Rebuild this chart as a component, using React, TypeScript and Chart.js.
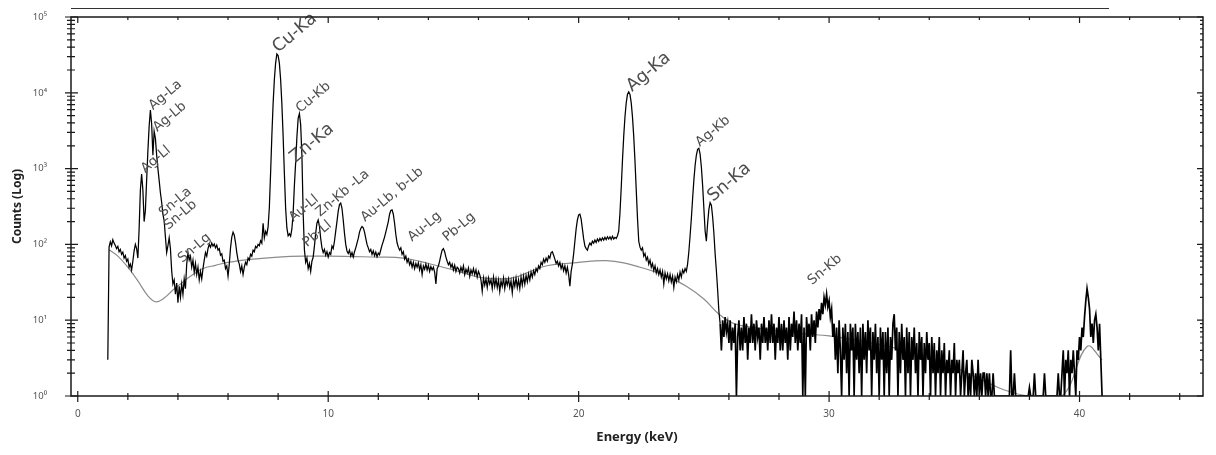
import { useEffect, useRef } from "react";
import { Chart, registerables } from "chart.js";

Chart.register(...registerables);

// spectrum channels are 0.05 keV wide, the first one sits at 1.20 keV
const startKeV = 1.2;
const keVPerChannel = 0.05;

// counts per channel, one row = 1 keV (row start energy in the comment)
const counts = [
  /* 1.2 */ 3, 92, 108, 96, 115, 104, 97, 88, 94, 80, 86, 74, 79, 66, 71, 60, 64, 50, 55, 46,
  /* 2.2 */ 60, 82, 100, 88, 66, 160, 520, 850, 520, 200, 280, 700, 1700, 3600, 5900, 3900, 1500, 3100, 2500, 1500,
  /* 3.2 */ 1000, 700, 480, 360, 250, 205, 125, 78, 96, 122, 88, 45, 30, 34, 22, 31, 17, 28, 20, 30,
  /* 4.2 */ 22, 35, 26, 55, 78, 62, 70, 50, 62, 43, 56, 40, 50, 34, 44, 35, 48, 62, 78, 70,
  /* 5.2 */ 88, 100, 92, 104, 95, 101, 90, 98, 84, 88, 72, 75, 60, 62, 48, 52, 38, 55, 90, 125,
  /* 6.2 */ 145, 132, 105, 78, 62, 55, 44, 52, 40, 50, 58, 54, 66, 62, 74, 70, 84, 80, 94, 90,
  /* 7.2 */ 100, 96, 112, 104, 190, 122, 148, 135, 170, 306, 880, 2720, 7170, 15000, 24600, 32500, 31000, 24600, 15000, 7150,
  /* 8.2 */ 2700, 860, 300, 165, 130, 138, 128, 160, 260, 600, 1200, 2600, 4600, 5300, 3800, 1500, 260, 85, 58, 66,
  /* 9.2 */ 48, 56, 44, 60, 68, 95, 140, 190, 210, 175, 120, 90, 78, 86, 72, 80, 68, 78, 74, 95,
  /* 10.2 */ 88, 110, 150, 200, 275, 335, 350, 300, 210, 140, 100, 82, 76, 84, 70, 78, 68, 80, 90, 104,
  /* 11.2 */ 120, 145, 162, 172, 165, 145, 120, 100, 90, 80, 86, 74, 82, 71, 79, 69, 77, 73, 85, 98,
  /* 12.2 */ 110, 125, 145, 170, 200, 250, 280, 285, 250, 190, 135, 105, 92, 84, 90, 74, 80, 64, 70, 58,
  /* 13.2 */ 64, 54, 60, 50, 58, 48, 56, 50, 57, 46, 54, 40, 52, 47, 55, 46, 53, 44, 51, 46,
  /* 14.2 */ 50, 43, 30, 48, 52, 60, 72, 84, 88, 80, 68, 60, 54, 58, 50, 55, 46, 53, 44, 50,
  /* 15.2 */ 48, 42, 50, 44, 52, 40, 47, 42, 49, 38, 46, 41, 48, 40, 46, 37, 44, 40, 34, 24,
  /* 16.2 */ 36, 29, 35, 27, 36, 30, 34, 26, 37, 28, 35, 27, 34, 24, 33, 28, 36, 26, 34, 29,
  /* 17.2 */ 35, 27, 33, 23, 34, 28, 36, 27, 34, 26, 37, 29, 38, 30, 39, 32, 41, 34, 43, 37,
  /* 18.2 */ 45, 40, 48, 44, 52, 48, 58, 54, 64, 58, 66, 60, 70, 66, 78, 80, 72, 64, 56, 60,
  /* 19.2 */ 52, 58, 48, 54, 45, 52, 42, 50, 40, 28, 44, 55, 75, 110, 160, 210, 245, 250, 215, 160,
  /* 20.2 */ 118, 95, 88, 84, 96, 104, 98, 110, 104, 114, 106, 118, 110, 120, 112, 122, 114, 124, 116, 126,
  /* 21.2 */ 118, 126, 116, 128, 118, 124, 120, 130, 150, 260, 560, 1290, 2680, 4830, 7390, 9550, 10300, 9500, 7350, 4780,
  /* 22.2 */ 2640, 1250, 520, 220, 110, 92, 84, 90, 70, 76, 62, 68, 55, 62, 50, 56, 45, 52, 42, 48,
  /* 23.2 */ 40, 46, 37, 44, 30, 42, 35, 41, 33, 40, 32, 38, 27, 37, 32, 40, 34, 43, 37, 46,
  /* 24.2 */ 42, 48, 44, 55, 80, 130, 220, 400, 700, 1100, 1500, 1800, 1850, 1550, 1050, 600, 300, 150, 110, 190,
  /* 25.2 */ 290, 355, 330, 230, 140, 75, 45, 25, 13, 9, 4, 10, 6, 11, 7, 9, 5, 10, 4, 8,
  /* 26.2 */ 5, 9, 1, 6, 10, 4, 8, 4, 11, 5, 9, 3, 8, 5, 12, 5, 9, 4, 10, 6,
  /* 27.2 */ 8, 3, 9, 5, 11, 5, 8, 4, 10, 5, 12, 5, 9, 3, 8, 5, 11, 4, 9, 4,
  /* 28.2 */ 10, 5, 8, 3, 11, 4, 9, 6, 13, 5, 10, 4, 9, 5, 12, 1, 8, 1, 11, 6,
  /* 29.2 */ 9, 4, 12, 6, 10, 5, 13, 8, 14, 10, 17, 12, 20, 16, 22, 15, 18, 11, 14, 6,
  /* 30.2 */ 9, 3, 8, 2, 10, 4, 1, 8, 3, 9, 2, 7, 1, 9, 4, 8, 1, 9, 3, 7,
  /* 31.2 */ 2, 8, 1, 9, 3, 7, 2, 10, 4, 8, 1, 7, 3, 9, 2, 6, 1, 8, 3, 7,
  /* 32.2 */ 1, 7, 2, 8, 1, 6, 3, 9, 12, 4, 8, 1, 7, 2, 9, 3, 6, 1, 8, 2,
  /* 33.2 */ 7, 1, 6, 3, 8, 2, 5, 1, 7, 3, 6, 1, 5, 2, 7, 3, 5, 1, 6, 2,
  /* 34.2 */ 5, 1, 4, 2, 6, 1, 4, 2, 5, 1, 3, 2, 4, 1, 3, 2, 5, 1, 3, 2,
  /* 35.2 */ 3, 1, 2, 4, 1, 2, 3, 1, 2, 1, 3, 2, 1, 2, 1, 3, 1, 2, 1, 2,
  /* 36.2 */ 2, 1, 2, 1, 2, 1, 1, 2, 1, 1, 1, 1, 1, 1, 1, 1, 1, 1, 1, 1,
  /* 37.2 */ 1, 4, 1, 1, 2, 1, 1, 1, 1, 1, 1, 1, 1, 1, 1, 1, 1.3, 1, 1, 1,
  /* 38.2 */ 2, 1, 1, 1, 1, 1, 1, 1, 2, 1, 1, 1, 1, 1, 1, 1, 1, 1, 1, 2,
  /* 39.2 */ 1, 1, 2, 4, 1, 3, 2, 4, 1, 3, 2, 4, 2, 1, 4, 3, 6, 4, 8, 6,
  /* 40.2 */ 11, 18, 26, 20, 14, 6, 9, 5, 10, 12, 8, 4, 9, 3, 1,
];

// fitted background (grey curve)
const bgEnergy = [1.25, 1.6, 2.0, 2.4, 2.8, 3.1, 3.4, 3.8, 4.2, 4.6, 5.0, 5.5, 6.0, 7.0, 8.0, 9.0, 10, 11, 12, 13, 14, 15, 16, 17, 17.5, 18, 18.5, 19, 19.8, 20.5, 21.1, 21.8, 22.45, 23, 23.5, 24.3, 25, 25.6, 26.2, 27, 28, 29, 30, 31, 32, 33, 34, 35, 36, 37, 38, 39.3, 40.3, 40.9];
const bgCounts = [85, 70, 50, 33, 21, 17.5, 19, 25, 32, 40, 48, 53, 58, 64, 68, 70, 70, 69, 68, 66, 56, 46, 37, 35, 37, 43, 50, 54, 57, 60, 61, 57, 50, 44, 38, 28, 19, 12, 9, 8, 7.2, 6.6, 6.2, 5.5, 4.8, 4, 3.2, 2.4, 1.7, 1.2, 1, 1, 4.5, 3];

// peak identification labels, anchored at (energy, counts)
const peakNames = ["Ag-Ll", "Ag-La", "Ag-Lb", "Sn-La", "Sn-Lb", "Sn-Lg", "Cu-Ka", "Cu-Kb", "Zn-Ka", "Au-Ll", "Pb-Ll", "Zn-Kb -La", "Au-Lb, b-Lb", "Au-Lg", "Pb-Lg", "Ag-Ka", "Ag-Kb", "Sn-Ka", "Sn-Kb"];
const peakEnergy = [2.69, 3.0, 3.17, 3.41, 3.61, 4.17, 8.0, 8.88, 8.68, 8.6, 9.15, 9.67, 11.47, 13.35, 14.74, 22.13, 24.84, 25.36, 29.32];
const peakCounts = [870, 5900, 3030, 230, 155, 57, 33500, 5400, 1180, 197, 92, 230, 197, 108, 108, 10250, 1930, 362, 29];
const bigPeaks = ["Cu-Ka", "Zn-Ka", "Ag-Ka", "Sn-Ka"];

const decades = [1, 10, 100, 1000, 10000, 100000];
const yTickLabels = ["10⁰", "10¹", "10²", "10³", "10⁴", "10⁵"];
const xTickValues = [0, 10, 20, 30, 40];
const xTickLabels = ["0", "10", "20", "30", "40"];

const FONT = "'Noto Sans', 'DejaVu Sans', sans-serif";
const LABEL_FONT = "'DejaVu Sans', sans-serif";

const framePlugin = {
  id: "frame",
  afterDraw(chart: any) {
    const { ctx, chartArea: a } = chart;
    const xs = chart.scales.x;
    const ys = chart.scales.y;
    ctx.save();
    ctx.strokeStyle = "#1a1a1a";
    ctx.lineWidth = 1.5;
    ctx.strokeRect(a.left, a.top, a.right - a.left, a.bottom - a.top);
    ctx.lineWidth = 1.2;
    ctx.beginPath();
    xs.ticks.forEach((t: any) => {
      const px = xs.getPixelForValue(t.value);
      const major = t.value % 10 === 0;
      ctx.moveTo(px, a.bottom - (major ? 5 : 3));
      ctx.lineTo(px, a.bottom + (major ? 6 : 4));
      ctx.moveTo(px, a.top);
      ctx.lineTo(px, a.top + (major ? 6 : 3));
    });
    ys.ticks.forEach((t: any) => {
      const py = ys.getPixelForValue(t.value);
      const major = decades.includes(t.value);
      ctx.moveTo(a.left - (major ? 6 : 4), py);
      ctx.lineTo(a.left + (major ? 7 : 4), py);
      ctx.moveTo(a.right - (major ? 6 : 3), py);
      ctx.lineTo(a.right, py);
    });
    ctx.stroke();
    ctx.restore();
  },
};

const peakLabelPlugin = {
  id: "peakLabels",
  afterDatasetsDraw(chart: any) {
    const { ctx } = chart;
    const xs = chart.scales.x;
    const ys = chart.scales.y;
    ctx.save();
    ctx.fillStyle = "#4d4d4d";
    ctx.textAlign = "left";
    ctx.textBaseline = "alphabetic";
    peakNames.forEach((name, i) => {
      const px = xs.getPixelForValue(peakEnergy[i]);
      const py = ys.getPixelForValue(peakCounts[i]);
      ctx.save();
      ctx.translate(px, py);
      ctx.rotate((-40 * Math.PI) / 180);
      ctx.font = `${bigPeaks.includes(name) ? 17.5 : 13.5}px ${LABEL_FONT}`;
      ctx.fillText(name, 0, 0);
      ctx.restore();
    });
    ctx.restore();
  },
};

function SpectrumChart() {
  const canvasRef = useRef<HTMLCanvasElement | null>(null);

  useEffect(() => {
    if (!canvasRef.current) return;

    const spectrum = counts.map((c, i) => ({ x: startKeV + i * keVPerChannel, y: c }));
    const background = bgEnergy.map((e, i) => ({ x: e, y: bgCounts[i] }));

    const chart = new Chart(canvasRef.current, {
      type: "line",
      data: {
        datasets: [
          {
            data: spectrum,
            borderColor: "#000",
            borderWidth: 1.25,
            pointRadius: 0,
            tension: 0,
            // the sparse high-energy tail is drawn a bit heavier so the noise reads as a band
            segment: {
              borderWidth: (ctx: any) => (ctx.p0.parsed.x > 25.6 ? 1.7 : 1.25),
            },
          },
          {
            data: background,
            borderColor: "#8c8c8c",
            borderWidth: 1.2,
            pointRadius: 0,
            tension: 0.4,
          },
        ],
      },
      options: {
        animation: false,
        responsive: true,
        maintainAspectRatio: false,
        layout: { padding: { top: 9, right: 5, left: 0, bottom: 0 } },
        plugins: {
          legend: { display: false },
          tooltip: { enabled: false },
        },
        scales: {
          x: {
            type: "linear",
            min: -0.27,
            max: 44.93,
            grid: { display: false, drawTicks: false },
            border: { display: false },
            afterBuildTicks: (scale: any) => {
              const t = [];
              for (let v = 0; v <= 44; v += 2) t.push({ value: v });
              scale.ticks = t;
            },
            afterFit: (scale: any) => {
              scale.height = 51;
              scale.paddingLeft = 0;
              scale.paddingRight = 0;
            },
            ticks: {
              autoSkip: false,
              maxRotation: 0,
              padding: 12,
              color: "#555",
              font: { family: FONT, size: 10 },
              callback: (value: any) => {
                const i = xTickValues.indexOf(Number(value));
                return i >= 0 ? xTickLabels[i] : "";
              },
            },
            title: {
              display: true,
              text: "Energy (keV)",
              color: "#222",
              font: { family: FONT, size: 13, weight: "bold" },
              padding: { top: 0, bottom: 2 },
            },
          },
          y: {
            type: "logarithmic",
            min: 1,
            max: 100000,
            grid: { display: false, drawTicks: false },
            border: { display: false },
            afterBuildTicks: (scale: any) => {
              const t = [];
              for (let d = 0; d < 5; d++) {
                for (let m = 1; m < 10; m++) t.push({ value: m * 10 ** d });
              }
              t.push({ value: 100000 });
              scale.ticks = t;
            },
            afterFit: (scale: any) => {
              scale.width = 63;
              scale.paddingTop = 0;
              scale.paddingBottom = 0;
            },
            ticks: {
              autoSkip: false,
              padding: 24,
              color: "#555",
              font: { family: FONT, size: 9.5 },
              callback: (value: any) => {
                const i = decades.indexOf(Number(value));
                return i >= 0 ? yTickLabels[i] : "";
              },
            },
            title: {
              display: true,
              text: "Counts (Log)",
              color: "#222",
              font: { family: FONT, size: 12, weight: "bold" },
              padding: { top: 2, bottom: 0 },
            },
          },
        },
      },
      plugins: [peakLabelPlugin, framePlugin],
    });

    return () => {
      chart.destroy();
    };
  }, []);

  return (
    <div style={{ position: "relative", width: 1200, height: 439 }}>
      <div
        style={{
          position: "absolute",
          left: 63,
          top: 0,
          width: 1038,
          borderTop: "1.5px solid #333",
        }}
      />
      <canvas ref={canvasRef}></canvas>
    </div>
  );
}

export default function App() {
  return <SpectrumChart />;
}
